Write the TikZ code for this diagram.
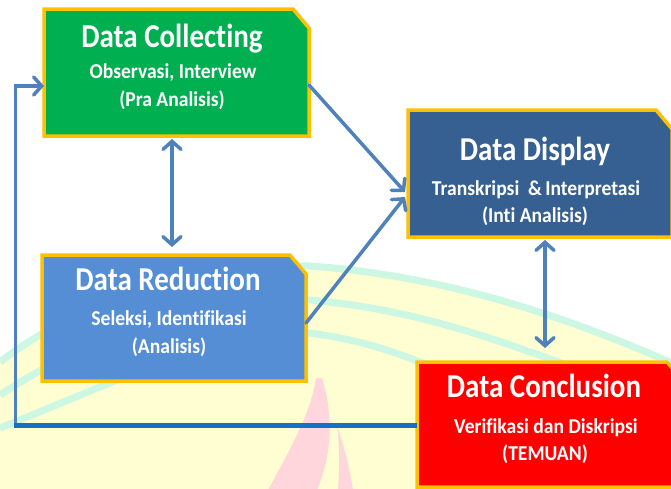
\documentclass[tikz,border=0pt]{standalone}
\usepackage{fontspec}
\setmainfont{Carlito}[Ligatures=NoCommon]
\usetikzlibrary{arrows.meta,calc}
\definecolor{gold}{HTML}{FFC000}
\definecolor{cgreen}{HTML}{00B050}
\definecolor{cdisplay}{HTML}{376092}
\definecolor{creduce}{HTML}{558ED5}
\definecolor{cred}{HTML}{FF0000}
\definecolor{carrow}{HTML}{4F81BD}
\definecolor{cfb}{HTML}{1770C4}
\definecolor{wmyellow}{HTML}{FFFDD2}
\definecolor{wmmint}{HTML}{CCF7E3}
\definecolor{wmpink}{HTML}{FFD6DC}
\newcommand{\snipbox}[6]{%
  \fill[#6, draw=gold, line width=3.5pt, line join=miter]
    (#2,#3) -- (#4-16,#3) -- (#4,#3+19) -- (#4,#5) -- (#2,#5) -- cycle;
  \node[boxnode, minimum width=#4-#2, minimum height=#5-#3] (#1) at ({(#2+#4)/2},{(#3+#5)/2}) {};
}
\begin{document}
\begin{tikzpicture}[x=1pt,y=-1pt,
  boxnode/.style={draw=none, inner sep=0pt, outer sep=0pt, rectangle},
  ttl/.style={anchor=base, inner sep=0pt, text=white, font=\fontsize{29}{29}\selectfont\bfseries},
  sub/.style={anchor=base, inner sep=0pt, text=white, font=\fontsize{19.6}{19.6}\selectfont\bfseries},
  conn/.style={draw=carrow, line width=3.5pt, line cap=round},
  tip/.style={-{Straight Barb[length=8pt,width=18pt,line cap=round]}},
  tips/.style={{Straight Barb[length=8pt,width=18pt,line cap=round]}-{Straight Barb[length=8pt,width=18pt,line cap=round]}}]
\useasboundingbox (0,0) rectangle (671,488);
\fill[white] (0,0) rectangle (671,488);
% watermark
\begin{scope}
\clip (0,0) rectangle (671,488);
\fill[wmyellow] (0,362) .. controls (80,300) and (200,262) .. (310,266) .. controls (450,276) and (580,320) .. (700,376) -- (700,500) -- (0,500) -- cycle;
\draw[wmmint, line width=7pt] (0,362) .. controls (80,300) and (200,262) .. (310,266) .. controls (450,276) and (580,320) .. (700,376);
\draw[wmmint, line width=7pt] (0,395) .. controls (100,330) and (200,295) .. (310,300) .. controls (420,310) and (500,340) .. (620,385);
\draw[wmmint, line width=7pt] (0,428) .. controls (120,380) and (220,330) .. (310,333) .. controls (360,340) and (390,350) .. (430,366);
\fill[wmpink] (316,378) .. controls (312,410) and (290,450) .. (268,490) -- (317,490) .. controls (330,460) and (335,420) .. (322,378) -- cycle;
\fill[wmpink] (337,425) .. controls (345,450) and (350,470) .. (353,490) -- (338,490) .. controls (340,460) and (339,440) .. (337,425) -- cycle;
\end{scope}
% boxes
\snipbox{coll}{44}{9}{309}{136}{cgreen}
\snipbox{disp}{408}{110}{672}{237}{cdisplay}
\snipbox{redu}{42}{255}{306}{381}{creduce}
\snipbox{conc}{417}{362}{683}{487}{cred}
% texts
\node[ttl] (collT) at (172,47) {\scalebox{1}[1.15]{Data Collecting}};
\node[sub] (collS) at (173,78) {\scalebox{1}[1.08]{Observasi, Interview}};
\node[sub] (collP) at (172,106) {\scalebox{1}[1.08]{(Pra Analisis)}};
\node[ttl] (dispT) at (535,160) {\scalebox{1}[1.15]{Data Display}};
\node[sub] (dispS) at (536,195) {\scalebox{1}[1.08]{Transkripsi\ \ \&\,Interpretasi}};
\node[sub] (dispP) at (535,222) {\scalebox{1}[1.08]{(Inti Analisis)}};
\node[ttl] (reduT) at (168,290) {\scalebox{1}[1.15]{Data Reduction}};
\node[sub] (reduS) at (169,325) {\scalebox{1}[1.08]{Seleksi, Identifikasi}};
\node[sub] (reduP) at (169,353) {\scalebox{1}[1.08]{(Analisis)}};
\node[ttl] (concT) at (544,397) {\scalebox{1}[1.15]{Data Conclusion}};
\node[sub] (concS) at (546,433) {\scalebox{1}[1.08]{Verifikasi dan Diskripsi}};
\node[sub] (concP) at (545,460) {\scalebox{1}[1.08]{(TEMUAN)}};
% connectors
\coordinate (c1s) at (coll.east |- 0,85);
\coordinate (d1e) at (405,192);
\coordinate (r1s) at (redu.east |- 0,323);
\coordinate (d2e) at (405,197);
\draw[conn,tip] (c1s) -- (d1e);
\draw[conn,tip] (r1s) -- (d2e);
\coordinate (cra) at (172,139);
\coordinate (crb) at (172,247);
\draw[conn,tips] (cra) -- (crb);
\coordinate (dca) at (545,240);
\coordinate (dcb) at (545,348);
\draw[conn,tips] (dca) -- (dcb);
% feedback
\coordinate (fbS) at (conc.west |- 0,425);
\coordinate (fbC) at (15.5,425);
\coordinate (fbE) at (coll.west |- 0,86);
\draw[conn,tip] (fbC) |- (fbE);
\draw[draw=cfb, line width=5pt] (fbS) -- ($(fbC)+(-1.5,0)$);
\end{tikzpicture}
\end{document}
